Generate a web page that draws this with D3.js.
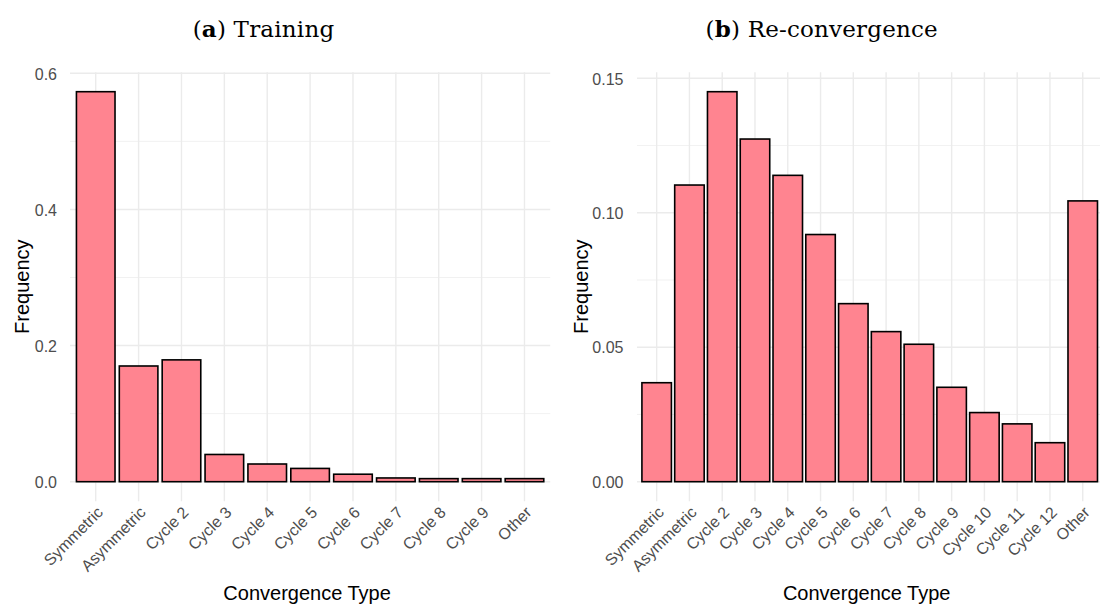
<!DOCTYPE html>
<html>
<head>
<meta charset="utf-8">
<script src="https://cdn.jsdelivr.net/npm/d3@7/dist/d3.min.js"></script>
<style>
  html, body { margin: 0; padding: 0; background: #fff; }
  svg { display: block; }
</style>
</head>
<body>
<svg id="chart" width="1100" height="608"></svg>
<script>
// ---- data ----
const trainCategories = ["Symmetric", "Asymmetric", "Cycle 2", "Cycle 3", "Cycle 4", "Cycle 5",
  "Cycle 6", "Cycle 7", "Cycle 8", "Cycle 9", "Other"];
const trainValues = [0.573, 0.170, 0.179, 0.040, 0.026, 0.0195, 0.011, 0.0055, 0.0045, 0.0045, 0.0045];
const trainTicks = [0, 0.2, 0.4, 0.6];
const trainMinor = [0.1, 0.3, 0.5];

const reconCategories = ["Symmetric", "Asymmetric", "Cycle 2", "Cycle 3", "Cycle 4", "Cycle 5",
  "Cycle 6", "Cycle 7", "Cycle 8", "Cycle 9", "Cycle 10", "Cycle 11", "Cycle 12", "Other"];
const reconValues = [0.0368, 0.1103, 0.1450, 0.1274, 0.1139, 0.0919, 0.0662, 0.0558, 0.0511,
  0.0351, 0.0257, 0.0215, 0.0145, 0.1044];
const reconTicks = [0, 0.05, 0.10, 0.15];
const reconMinor = [0.025, 0.075, 0.125];

const svg = d3.select("#chart");
const FILL = "#FF8490";

function panel(opts) {
  const {cats, vals, ticks, minor, fmt, x0, x1, y0, y1, title, titleLetter, titleX,
         yTitleX, tickLabelX} = opts;
  const g = svg.append("g");
  const x = d3.scaleBand().domain(cats).range([x0, x1]).paddingInner(0.1).paddingOuter(0.15);
  const maxV = d3.max(vals);
  const pad = maxV * 0.05;
  const y = d3.scaleLinear().domain([-pad, maxV + pad]).range([y1, y0]);

  // minor grid
  g.selectAll(".minor").data(minor).join("line")
    .attr("x1", x0).attr("x2", x1)
    .attr("y1", d => y(d)).attr("y2", d => y(d))
    .attr("stroke", "#EBEBEB").attr("stroke-width", 0.7);
  // major y grid
  g.selectAll(".majy").data(ticks).join("line")
    .attr("x1", x0).attr("x2", x1)
    .attr("y1", d => y(d)).attr("y2", d => y(d))
    .attr("stroke", "#EBEBEB").attr("stroke-width", 1.4);
  // major x grid
  g.selectAll(".majx").data(cats).join("line")
    .attr("x1", d => x(d) + x.bandwidth() / 2).attr("x2", d => x(d) + x.bandwidth() / 2)
    .attr("y1", y0).attr("y2", y1)
    .attr("stroke", "#EBEBEB").attr("stroke-width", 1.4);

  // bars
  g.selectAll(".bar").data(cats).join("rect")
    .attr("x", d => x(d))
    .attr("width", x.bandwidth())
    .attr("y", (d, i) => y(vals[i]))
    .attr("height", (d, i) => y(0) - y(vals[i]))
    .attr("fill", FILL).attr("stroke", "#000").attr("stroke-width", 1.6);

  // y tick labels
  const yAxis = d3.axisLeft(y).tickValues(ticks).tickFormat(fmt).tickSize(0).tickPadding(0);
  const ya = g.append("g").attr("transform", `translate(${tickLabelX},0)`).call(yAxis);
  ya.select(".domain").remove();
  ya.selectAll("text").attr("fill", "#4D4D4D").style("font-family", "Liberation Sans, Arial, sans-serif")
    .style("font-size", "16px").attr("dy", "0.36em");

  // x tick labels
  const xAxis = d3.axisBottom(x).tickSize(0).tickPadding(0);
  const xa = g.append("g").attr("transform", `translate(0,${y1 + 4})`).call(xAxis);
  xa.select(".domain").remove();
  xa.selectAll("text")
    .attr("fill", "#4D4D4D")
    .style("font-family", "Liberation Sans, Arial, sans-serif")
    .style("font-size", "16px")
    .attr("text-anchor", "end")
    .attr("y", 0).attr("dy", "0.72em").attr("x", 0)
    .attr("transform", "translate(0,0) rotate(-45)");

  // axis titles
  g.append("text")
    .attr("x", (x0 + x1) / 2 - 3).attr("y", 600)
    .attr("text-anchor", "middle")
    .style("font-family", "Liberation Sans, Arial, sans-serif").style("font-size", "20px")
    .attr("fill", "#000").text("Convergence Type");
  g.append("text")
    .attr("transform", `translate(${yTitleX},${(y0 + y1) / 2}) rotate(-90)`)
    .attr("text-anchor", "middle")
    .style("font-family", "Liberation Sans, Arial, sans-serif").style("font-size", "20px")
    .attr("fill", "#000").text("Frequency");

  // title
  const t = g.append("text")
    .attr("x", titleX).attr("y", 37)
    .attr("text-anchor", "middle")
    .style("font-family", "DejaVu Serif, serif").style("font-size", "23px")
    .style("letter-spacing", "0.2px")
    .attr("fill", "#000");
  t.append("tspan").text("(");
  t.append("tspan").style("font-weight", "bold").text(titleLetter);
  t.append("tspan").text(") " + title);
}

panel({cats: trainCategories, vals: trainValues, ticks: trainTicks, minor: trainMinor,
  fmt: d3.format(".1f"), x0: 70, x1: 550.2, y0: 72.2, y1: 501.2,
  title: "Training", titleLetter: "a", titleX: 263.5, yTitleX: 28.5, tickLabelX: 57});

panel({cats: reconCategories, vals: reconValues, ticks: reconTicks, minor: reconMinor,
  fmt: d3.format(".2f"), x0: 637, x1: 1102.4, y0: 72.2, y1: 501.2,
  title: "Re-convergence", titleLetter: "b", titleX: 821.7, yTitleX: 587.5, tickLabelX: 623.5});
</script>
</body>
</html>
